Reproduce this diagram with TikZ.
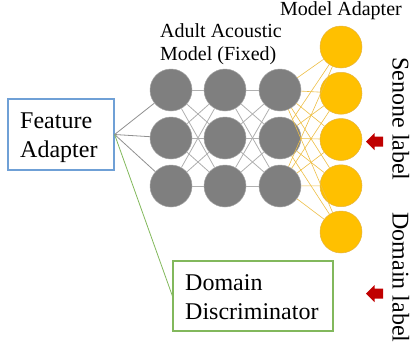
\documentclass[tikz,border=0pt]{standalone}
\usepackage{fontspec}
\setmainfont{Liberation Serif}
\definecolor{nodegray}{HTML}{7F7F7F}
\definecolor{rimgray}{HTML}{A3A3A3}
\definecolor{linkgray}{HTML}{B0B0B0}
\definecolor{feedgray}{HTML}{909090}
\definecolor{adaptyellow}{HTML}{FFC000}
\definecolor{rimyellow}{HTML}{E6B440}
\definecolor{linkyellow}{HTML}{EDBE45}
\definecolor{featblue}{HTML}{6FA0D6}
\definecolor{discgreen}{HTML}{82B85C}
\definecolor{labelred}{HTML}{C00000}
\tikzset{
  neuron/.style={circle, minimum size=42pt, inner sep=0pt, fill=nodegray, draw=rimgray, line width=0.5pt},
  adapterunit/.style={circle, minimum size=42pt, inner sep=0pt, fill=adaptyellow, draw=rimyellow, line width=0.5pt},
  frame/.style={rectangle, line width=1.2pt, inner sep=0pt},
  boxtext/.style={inner sep=0pt, anchor=north west, align=left, font=\fontsize{24}{29}\selectfont},
  caption/.style={inner sep=0pt, font=\fontsize{20}{23}\selectfont},
  sidelabel/.style={inner sep=0pt, rotate=-90, anchor=base, font=\fontsize{24}{28}\selectfont},
  graylink/.style={draw=linkgray, line width=0.8pt},
  yellowlink/.style={draw=linkyellow, line width=0.6pt},
  feedlink/.style={draw=feedgray, line width=0.8pt},
}
\begin{document}
\begin{tikzpicture}[x=1pt, y=-1pt]
\useasboundingbox (0,0) rectangle (410,349);

% fixed acoustic model: three layers of three units
\foreach \c/\x in {1/171,2/225,3/280}
  \foreach \r/\y in {1/90,2/138,3/186}
    \node[neuron] (g\c\r) at (\x,\y) {};

% model adapter layer
\foreach \r/\y in {1/47,2/93.25,3/139.5,4/185.75,5/232}
  \node[adapterunit] (y\r) at (341,\y) {};

% input blocks
\node[frame, draw=featblue, minimum width=106pt, minimum height=71pt] (fa) at (61,134.5) {};
\node[boxtext] (fatext) at (20,112.2) {Feature\\Adapter};
\node[frame, draw=discgreen, minimum width=160pt, minimum height=70pt] (dd) at (253,296) {};
\node[boxtext] (ddtext) at (185,274.2) {Domain\\Discriminator};

% titles
\node[caption, anchor=north west, align=left] (amtitle) at (160,23.5) {Adult Acoustic\\Model (Fixed)};
\node[caption, anchor=base west] (matitle) at (280,15) {Model Adapter};

% connections between layers
\foreach \a in {1,2,3}
  \foreach \b in {1,2,3} {
    \draw[graylink] (g1\a) -- (g2\b);
    \draw[graylink] (g2\a) -- (g3\b);
  }
\foreach \a in {1,2,3}
  \foreach \b in {1,2,3,4,5}
    \draw[yellowlink] (g3\a) -- (y\b);

% feature adapter feeds the network and the discriminator
\foreach \r in {1,2,3}
  \draw[feedlink] (fa.east) -- (g1\r);
\draw[draw=discgreen, line width=0.8pt] (fa.east) -- (dd.west);

% target labels
\node[sidelabel] (senone) at (392.5,119) {Senone label};
\node[sidelabel] (domain) at (392.5,277.5) {Domain label};

% block arrows pointing at the outputs
\fill[labelred] (366,141.5) -- (374.5,133) -- (374.5,136.5) -- (383,136.5)
  -- (383,146.5) -- (374.5,146.5) -- (374.5,150) -- cycle;
\fill[labelred] (366,293.5) -- (374.5,285) -- (374.5,288.5) -- (383,288.5)
  -- (383,298.5) -- (374.5,298.5) -- (374.5,302) -- cycle;
\end{tikzpicture}
\end{document}
